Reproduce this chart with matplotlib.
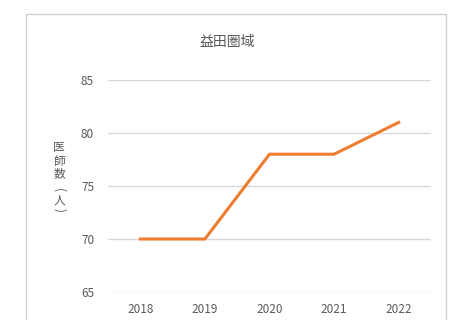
import matplotlib
matplotlib.use("Agg")
import matplotlib.pyplot as plt
from matplotlib.patches import Rectangle

plt.rcParams['font.family'] = ['Noto Sans CJK JP', 'DejaVu Sans']

years = ['2018', '2019', '2020', '2021', '2022']
doctors = [70, 70, 78, 78, 81]
y_ticks = [65, 70, 75, 80, 85]

TEXT = '#595959'
GRID = '#d9d9d9'
ORANGE = '#ed7d31'

fig = plt.figure(figsize=(4.5, 3.2), dpi=100)
fig.patch.set_facecolor('white')

# chart frame
fig.add_artist(Rectangle((26 / 450, -0.05), 420 / 450, 1 - 14 / 320 + 0.05,
                         transform=fig.transFigure, fill=False,
                         edgecolor='#d0d0d0', linewidth=1.0))

ax = fig.add_axes([108 / 450, 1 - 292 / 320, 323 / 450, 212 / 320])
x = range(len(years))
ax.plot(x, doctors, color=ORANGE, linewidth=2.2, solid_joinstyle='miter')

ax.set_xlim(-0.5, len(years) - 0.5)
ax.set_ylim(65, 85)
ax.set_yticks(y_ticks)
ax.set_xticks(list(x))
ax.set_xticklabels(years)
ax.grid(axis='y', color=GRID, linewidth=1.0)
ax.set_axisbelow(True)
for s in ax.spines.values():
    s.set_visible(False)
ax.tick_params(length=0, colors=TEXT, labelsize=8.5, pad=10)
ax.tick_params(axis='x', pad=8)

fig.text(227 / 450, 1 - 42 / 320, '益田圏域', ha='center', va='center',
         fontsize=10, color=TEXT)

# vertical axis title, one glyph per row; brackets turned on their side
ylabel_rows = [('医', 148, 0), ('師', 161, 0), ('数', 174, 0),
               ('(', 190, 270), ('人', 200, 0), (')', 210, 270)]
for ch, ypx, rot in ylabel_rows:
    fig.text(59 / 450, 1 - ypx / 320, ch, ha='center', va='center',
             fontsize=8.5, color=TEXT, rotation=rot, rotation_mode='anchor')

fig.savefig('out.png', dpi=100)
